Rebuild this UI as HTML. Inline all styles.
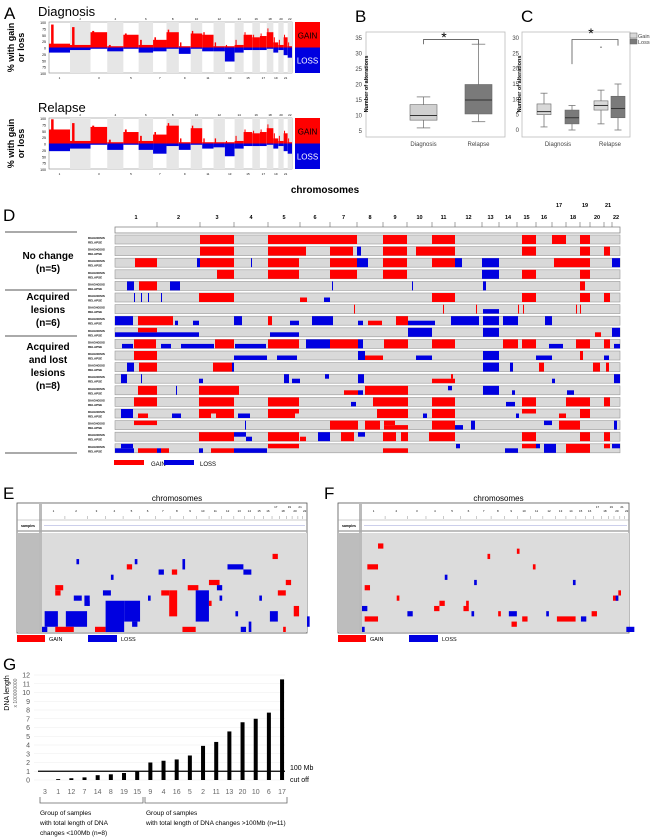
<!DOCTYPE html>
<html><head><meta charset="utf-8">
<style>
body{margin:0;background:#fff;}
svg{display:block;font-family:"Liberation Sans",sans-serif;}
</style></head>
<body>
<svg id="fig" width="650" height="837" viewBox="0 0 650 837" xmlns="http://www.w3.org/2000/svg"></svg>
<script>
// ---------- DATA ----------
const chrNames = ["1","2","3","4","5","6","7","8","9","10","11","12","13","14","15","16","17","18","19","20","21","22"];
const chrLengths = [249,243,198,191,181,171,159,146,141,136,135,134,115,107,103,90,81,78,59,63,48,51];
const diagGain = [15,10,60,5,50,10,30,60,5,55,50,5,5,10,50,40,45,60,20,10,40,5];
const diagGainPeak = [90,80,65,10,55,30,40,70,20,65,60,20,10,30,60,50,55,75,40,30,50,20];
const diagLoss = [20,10,5,15,5,20,15,5,25,5,15,15,55,20,10,10,10,5,20,10,30,40];
const relGain = [55,10,65,5,45,10,35,70,5,60,5,5,5,10,45,40,45,60,20,10,40,5];
const relGainPeak = [95,80,70,15,55,30,45,80,20,70,20,20,10,30,55,50,55,75,40,30,50,20];
const relLoss = [30,20,5,25,5,25,40,10,25,5,20,15,50,20,10,10,10,5,20,10,30,40];

const boxCatsB = ["Diagnosis","Relapse"];
const boxB = [[6,8.5,10,13.5,16],[8,10.5,15,20,33]];
const yTicksB = [5,10,15,20,25,30,35];
const boxC = [[1,5,6,8.5,12],[0,2,4,6.5,8],[2,6.5,8,9.5,13],[0,4,7,11,15]];
const outliersC = [[2,27]];
const yTicksC = [0,5,10,15,20,25,30];

const dChrBounds = [0,42,85,119,153,185,215,242,268,292,317,340,367,384,402,421,437,451,465,475,489,497,505];
const dRows = [
 [[85,119,'g',0],[153,242,'g',0],[268,292,'g',0],[317,340,'g',0],[407,421,'g',0],[437,451,'g',0],[465,475,'g',0]],
 [[85,119,'g',0],[153,191,'g',0],[215,238,'g',0],[242,246,'l',0],[268,292,'g',0],[301,340,'g',0],[407,421,'g',0],[465,475,'g',0],[489,495,'g',0]],
 [[20,42,'g',0],[82,85,'l',0],[85,119,'g',0],[136,137,'l',0],[153,184,'g',0],[215,242,'g',0],[242,253,'l',0],[268,292,'g',0],[317,340,'g',0],[340,347,'l',0],[367,384,'l',0],[439,475,'g',0],[497,505,'l',0]],
 [[102,119,'g',0],[153,184,'g',0],[215,242,'g',0],[268,292,'g',0],[367,384,'l',0],[407,421,'g',0],[465,475,'g',0]],
 [[12,19,'l',0],[24,42,'g',0],[55,65,'l',0],[217,218,'l',0],[297,298,'l',0],[368,371,'l',0],[465,470,'g',0]],
 [[19,20,'l',0],[26,27,'l',0],[33,34,'l',0],[46,47,'l',0],[84,119,'g',0],[185,192,'g',2],[209,215,'l',2],[317,340,'g',0],[407,421,'g',0],[465,475,'g',0],[489,495,'g',0]],
 [[239,240,'g',0],[328,329,'g',0],[361,362,'g',0],[403,404,'g',0],[408,409,'g',0],[461,462,'g',0],[465,466,'g',0],[368,384,'l',2]],
 [[0,18,'l',0],[23,58,'g',0],[60,63,'l',2],[78,84,'l',2],[119,127,'l',0],[153,157,'g',0],[175,184,'l',2],[197,218,'l',0],[243,248,'l',2],[253,267,'g',2],[281,293,'g',0],[293,320,'l',2],[336,364,'l',0],[368,384,'l',0],[388,403,'l',0],[430,437,'l',0]],
 [[0,84,'l',2],[23,42,'g',1],[155,184,'l',2],[293,317,'l',0],[368,384,'l',0],[480,486,'g',2],[497,505,'l',0]],
 [[7,18,'l',2],[19,41,'g',0],[46,56,'l',2],[66,99,'l',2],[100,119,'g',0],[120,151,'l',2],[153,184,'g',0],[191,215,'l',0],[215,243,'g',0],[243,248,'l',0],[269,293,'g',0],[317,340,'g',0],[388,403,'g',0],[407,421,'g',0],[434,448,'l',2],[461,475,'g',0],[489,495,'g',0],[499,505,'l',2]],
 [[19,42,'g',0],[119,152,'l',2],[162,182,'l',2],[243,250,'l',0],[250,268,'g',2],[301,317,'l',2],[368,384,'l',0],[421,437,'l',2],[465,468,'g',0],[489,494,'l',2]],
 [[12,19,'l',0],[24,42,'g',0],[98,117,'g',0],[117,119,'l',0],[368,384,'l',0],[395,398,'l',0],[424,429,'g',0],[478,485,'g',0],[491,494,'g',0]],
 [[6,12,'l',0],[26,27,'l',0],[84,88,'l',2],[169,174,'l',0],[177,185,'l',2],[210,214,'l',1],[243,249,'l',0],[317,340,'g',2],[336,338,'g',1],[437,440,'l',2],[499,505,'l',0]],
 [[23,42,'g',0],[61,62,'l',0],[84,124,'g',0],[229,243,'g',2],[243,248,'l',2],[250,293,'g',0],[333,337,'l',1],[368,384,'l',0],[397,400,'l',2],[452,459,'l',2]],
 [[19,42,'g',0],[84,119,'g',0],[153,184,'g',0],[236,241,'l',2],[258,293,'g',0],[317,340,'g',0],[391,400,'l',2],[407,421,'g',0],[451,475,'g',0],[489,495,'g',0]],
 [[6,18,'l',0],[23,33,'g',2],[57,66,'l',2],[84,119,'g',1],[84,96,'g',2],[101,119,'g',2],[123,135,'l',2],[153,184,'g',1],[153,180,'g',2],[262,293,'g',0],[308,312,'l',2],[317,340,'g',0],[401,404,'l',2],[407,421,'g',1],[444,451,'g',2],[465,475,'g',0]],
 [[19,42,'g',1],[130,131,'l',0],[215,243,'g',0],[250,265,'g',0],[269,293,'g',2],[269,280,'g',1],[317,340,'g',0],[340,348,'l',2],[356,360,'l',0],[429,437,'l',1],[444,465,'g',0],[499,502,'l',0]],
 [[84,119,'g',0],[119,131,'l',1],[131,137,'l',2],[153,184,'g',0],[185,191,'g',2],[203,215,'l',0],[226,239,'g',0],[243,250,'l',1],[268,281,'g',0],[286,293,'g',0],[314,340,'g',0],[407,421,'g',0],[465,475,'g',0],[489,495,'g',0]],
 [[0,19,'l',2],[6,18,'l',1],[23,42,'g',2],[42,46,'l',2],[46,54,'g',2],[84,88,'l',2],[96,119,'g',2],[119,152,'l',2],[153,184,'g',1],[268,293,'g',2],[341,345,'l',1],[390,403,'l',2],[407,421,'g',1],[421,425,'l',1],[429,441,'l',0],[451,475,'g',0],[489,495,'g',1],[497,505,'l',1]]
];
const dGroups = [["No change","(n=5)"],["Acquired","lesions","(n=6)"],["Acquired","and lost","lesions","(n=8)"]];

const eMarks = [
 [1,15,5,3,'l'],[0,18,2,1,'l'],[9,15,8,3,'l'],[5,18,7,1,'g'],[20,18,4,1,'g'],[24,13,7,6,'l'],[31,13,6,4,'l'],[34,17,2,1,'l'],
 [45,11,3,1,'g'],[48,11,3,5,'g'],[53,18,5,1,'g'],[55,10,4,1,'g'],[58,11,5,6,'l'],[63,9,4,1,'g'],[66,10,2,1,'l'],
 [86,15,3,2,'l'],[89,11,3,1,'g'],[95,14,2,2,'g'],[91,18,1,1,'g'],[44,7,2,1,'l'],[49,7,2,1,'g'],[53,5,1,2,'l'],
 [12,12,3,1,'l'],[16,12,2,2,'l'],[23,11,3,1,'l'],[13,5,1,1,'l'],[32,6,2,1,'g'],[35,5,1,1,'l'],[70,6,6,1,'l'],[76,7,3,1,'l'],
 [5,11,2,1,'g'],[5,10,3,1,'g'],[75,18,2,1,'l'],[78,17,1,2,'l'],[82,12,1,1,'l'],[87,4,2,1,'g'],[92,9,2,1,'g'],[26,8,1,1,'l'],
 [40,12,1,1,'l'],[17,13,1,1,'l'],[63,13,1,1,'g'],[67,12,1,1,'l'],[73,15,1,1,'l'],[100,16,1,2,'l']
];
const fMarks = [
 [0,18,1,1,'l'],[1,10,2,1,'g'],[1,16,5,1,'g'],[0,14,2,1,'l'],[13,12,1,1,'g'],[17,15,2,1,'l'],[29,13,2,1,'g'],[27,14,2,1,'g'],
 [55,15,3,1,'l'],[73,16,7,1,'g'],[56,17,2,1,'g'],[82,16,2,1,'l'],[94,12,2,1,'g'],[99,18,3,1,'l'],[86,15,2,1,'g'],
 [38,14,2,1,'g'],[39,13,1,1,'g'],[41,15,1,1,'l'],[69,15,1,1,'l'],[60,16,2,1,'g'],[58,3,1,1,'g'],[64,6,1,1,'g'],[47,4,1,1,'g'],
 [96,11,1,1,'g'],[95,12,1,1,'l'],[6,2,2,1,'g'],[2,6,4,1,'g'],[31,8,1,1,'l'],[42,9,1,1,'l'],[79,9,1,1,'l'],[51,15,1,1,'g']
];

const gCats = ["3","1","12","7","14","8","19","15","9","4","16","5","2","11","13","20","10","6","17"];
const gVals = [0,0.1,0.2,0.3,0.55,0.65,0.8,1.0,2.0,2.2,2.35,2.8,3.9,4.35,5.55,6.6,7.0,7.7,11.5];
const gTicks = [0,1,2,3,4,5,6,7,8,9,10,11,12];
const gCutoff = 1;

// ---------- HELPERS ----------
const NS="http://www.w3.org/2000/svg";
const svg=document.getElementById('fig');
function mk(tag,attrs,parent){const e=document.createElementNS(NS,tag);for(const k in attrs)e.setAttribute(k,attrs[k]);(parent||svg).appendChild(e);return e;}
function txt(x,y,s,size,parent,extra){const e=mk('text',Object.assign({x:x,y:y,'font-size':size,fill:'#000'},extra||{}),parent);e.textContent=s;return e;}
const RED="#ff0000", BLUE="#0000e0";
let el;

// ---------- PANEL A ----------
const totalLen=chrLengths.reduce((a,b)=>a+b,0);
function ax(cum){return 49+cum/totalLen*243;}
function drawA(top,gain,peak,loss,title,yTitle,name){
  const g=mk('g',{});
  
  
  el=txt(38,top-6,title,13,g);
  
  
  const bot=top+51, zero=top+25.5, sc=25.5/100;
  el=mk('rect',{x:49,y:top,width:243,height:51,fill:'#fff',stroke:'#888','stroke-width':0.6},g);
  
  
  let cum=0;
  chrLengths.forEach((L,i)=>{
    const x0=ax(cum),x1=ax(cum+L);
    if(i%2==1){el=mk('rect',{x:x0,y:top,width:x1-x0,height:51,fill:'#e6e6e6'},g);
      
      }
    el=mk('rect',{x:x0,y:zero-gain[i]*sc,width:x1-x0,height:gain[i]*sc,fill:RED},g);
    
    
    el=mk('rect',{x:x0+(x1-x0)*0.1,y:zero-peak[i]*sc,width:Math.max(1,(x1-x0)*0.12),height:peak[i]*sc,fill:RED},g);
    
    
    el=mk('rect',{x:x0,y:zero,width:x1-x0,height:loss[i]*sc,fill:BLUE},g);
    
    
    el=txt((x0+x1)/2,i%2?top-2:bot+6,chrNames[i],3,g,{'text-anchor':'middle'});
    
    
    cum+=L;
  });
  [100,75,50,25,0,25,50,75,100].forEach((v,k)=>{
    el=txt(46,top+1+k*51/8+1,String(v),3.5,g,{'text-anchor':'end'});
    
    
  });
  el=mk('rect',{x:295,y:top,width:25,height:25.5,fill:RED},g);
  
  
  el=txt(307.5,zero-9,"GAIN",8,g,{'text-anchor':'middle'});
  
  
  el=mk('rect',{x:295,y:zero,width:25,height:25.5,fill:BLUE},g);
  
  
  el=txt(307.5,zero+16,"LOSS",8,g,{'text-anchor':'middle',fill:'#fff'});
  
  
  el=txt(0,0,"% with gain",9,g,{'font-weight':'bold','text-anchor':'middle',transform:`translate(14,${zero}) rotate(-90)`});
  
  
  el=txt(0,0,"or loss",9,g,{'font-weight':'bold','text-anchor':'middle',transform:`translate(24,${zero}) rotate(-90)`});
  
  
}
el=txt(4,19,"A",17);


drawA(22,diagGain,diagGainPeak,diagLoss,"Diagnosis","","panel-a-diagnosis");
drawA(118,relGain,relGainPeak,relLoss,"Relapse","","panel-a-relapse");

// ---------- PANEL B ----------
function drawBox(b,x,w,yf,fill,g,name){
  const gg=mk('g',{},g);
  
  
  const cx=x+w/2;
  mk('line',{x1:cx,x2:cx,y1:yf(b[0]),y2:yf(b[1]),stroke:'#777','stroke-width':0.8},gg);
  mk('line',{x1:cx,x2:cx,y1:yf(b[3]),y2:yf(b[4]),stroke:'#777','stroke-width':0.8},gg);
  mk('line',{x1:cx-w/4,x2:cx+w/4,y1:yf(b[0]),y2:yf(b[0]),stroke:'#777','stroke-width':0.8},gg);
  mk('line',{x1:cx-w/4,x2:cx+w/4,y1:yf(b[4]),y2:yf(b[4]),stroke:'#777','stroke-width':0.8},gg);
  mk('rect',{x:x,y:yf(b[3]),width:w,height:yf(b[1])-yf(b[3]),fill:fill,stroke:'#666','stroke-width':0.6},gg);
  mk('line',{x1:x,x2:x+w,y1:yf(b[2]),y2:yf(b[2]),stroke:'#333','stroke-width':1},gg);
}
{
  const g=mk('g',{});
  
  
  el=txt(355,22,"B",17,g);
  
  
  el=mk('rect',{x:366,y:32,width:139,height:105,fill:'#fff',stroke:'#bbb','stroke-width':0.8},g);
  
  
  const yf=v=>131-(v-5)/30*93;
  yTicksB.forEach(v=>{
    el=txt(362,yf(v)+2,String(v),6,g,{'text-anchor':'end',fill:'#444'});
    
    
  });
  el=txt(0,0,"Number of alterations",5.5,g,{'font-weight':'bold','text-anchor':'middle',transform:'translate(368,84) rotate(-90)'});
  
  
  const xs=[410,465];
  boxCatsB.forEach((c,i)=>{
    drawBox(boxB[i],xs[i],27,yf,i?'#7a7a7a':'#d0d0d0',g,'box-'+c.toLowerCase());
    el=txt(xs[i]+13.5,146,c,6,g,{'text-anchor':'middle',fill:'#444'});
    
    
  });
  el=mk('path',{d:`M423.5,${yf(33)} V${yf(34.5)} H478.5 V${yf(33)}`,fill:'none',stroke:'#555','stroke-width':0.8},g);
  
  
  el=txt(444,42,"*",14,g,{'text-anchor':'middle'});
  
  
}
// ---------- PANEL C ----------
{
  const g=mk('g',{});
  
  
  el=txt(521,22,"C",17,g);
  
  
  el=mk('rect',{x:522,y:32,width:108,height:105,fill:'#fff',stroke:'#bbb','stroke-width':0.8},g);
  
  
  const yf=v=>130-v/30*92;
  yTicksC.forEach(v=>{
    el=txt(519,yf(v)+2,String(v),6,g,{'text-anchor':'end',fill:'#444'});
    
    
  });
  el=txt(0,0,"Number of alterations",5.5,g,{'font-weight':'bold','text-anchor':'middle',transform:'translate(521,84) rotate(-90)'});
  
  
  const xs=[537,565,594,611];
  boxC.forEach((b,i)=>drawBox(b,xs[i],14,yf,i%2?'#7a7a7a':'#d8d8d8',g,'box-c-'+i));
  outliersC.forEach(o=>{
    el=mk('circle',{cx:xs[o[0]]+7,cy:yf(o[1]),r:0.7,fill:'#555'},g);
    
    
  });
  el=txt(558,146,"Diagnosis",6,g,{'text-anchor':'middle',fill:'#444'});
  
  
  el=txt(610,146,"Relapse",6,g,{'text-anchor':'middle',fill:'#444'});
  
  
  el=mk('path',{d:`M572,${yf(21.5)} V${yf(29.5)} H618 V${yf(27.5)}`,fill:'none',stroke:'#555','stroke-width':0.8},g);
  
  
  el=txt(591,38,"*",14,g,{'text-anchor':'middle'});
  
  
  el=mk('rect',{x:630,y:33,width:7,height:5,fill:'#d8d8d8',stroke:'#666','stroke-width':0.5},g);
  
  
  el=txt(638,38,"Gains",5.5,g,{fill:'#444'});
  
  
  el=mk('rect',{x:630,y:39,width:7,height:5,fill:'#7a7a7a',stroke:'#666','stroke-width':0.5},g);
  
  
  el=txt(638,44,"Losses",5.5,g,{fill:'#444'});
  
  
}

// ---------- PANEL D ----------
{
  const g=mk('g',{});
  
  
  const dx=p=>115+p;
  el=txt(325,193,"chromosomes",10,g,{'font-weight':'bold','text-anchor':'middle'});
  
  
  el=txt(3,221,"D",17,g);
  
  
  el=mk('rect',{x:115,y:227,width:505,height:6,fill:'#fff',stroke:'#888','stroke-width':0.8},g);
  
  
  for(let i=0;i<22;i++){
    const a=dChrBounds[i],b=dChrBounds[i+1];
    const up=(i==16||i==18||i==20);
    el=txt(dx((a+b)/2),up?207:219,chrNames[i],5.5,g,{'font-weight':'bold','text-anchor':'middle'});
    
    
    if(i>0){el=mk('line',{x1:dx(a),x2:dx(a),y1:222,y2:227,stroke:'#666','stroke-width':0.6},g);
      
      }
  }
  const rowTop=235, rowH=11.6;
  dRows.forEach((segs,r)=>{
    const y=rowTop+r*rowH;
    el=mk('rect',{x:115,y:y,width:505,height:9,fill:'#d9d9d9',stroke:'#999','stroke-width':0.6},g);
    
    
    el=txt(88,y+4,"DIAGNOSIS",3,g,{'font-weight':'bold'});
    
    
    el=txt(88,y+8.5,"RELAPSE",3,g,{'font-weight':'bold'});
    
    
    segs.forEach(s=>{
      const yy=s[3]==2?y+4.5:y, hh=s[3]==0?9:4.5;
      el=mk('rect',{x:dx(s[0]),y:yy,width:Math.max(0.8,dx(s[1])-dx(s[0])),height:hh,fill:s[2]=='g'?RED:BLUE},g);
      
      
    });
  });
  [232,290,336,453].forEach(y=>{
    el=mk('line',{x1:5,x2:77,y1:y,y2:y,stroke:'#555','stroke-width':1},g);
    
    
  });
  const gy=[[259,272],[300,313,326],[350,363,376,389]];
  dGroups.forEach((lines,i)=>lines.forEach((s,k)=>{
    el=txt(48,gy[i][k],s,10,g,{'font-weight':'bold','text-anchor':'middle'});
    
    
  }));
  el=mk('rect',{x:114,y:460,width:30,height:5,fill:RED},g);
  
  
  el=txt(151,466,"GAIN",6,g);
  
  
  el=mk('rect',{x:164,y:460,width:30,height:5,fill:BLUE},g);
  
  
  el=txt(200,466,"LOSS",6,g);
  
  
}

// ---------- PANELS E & F ----------
function drawEF(x0,x1,left,marks,letter,name){
  const g=mk('g',{});
  
  
  el=txt(x0-14,499,letter,17,g);
  
  
  el=txt((x0+x1)/2+15,501,"chromosomes",8,g,{'text-anchor':'middle'});
  
  
  el=mk('rect',{x:x0,y:503,width:x1-x0,height:130,fill:'#fff',stroke:'#555','stroke-width':0.8},g);
  
  
  el=mk('rect',{x:left-3,y:503,width:3,height:130,fill:'#bbb'},g);
  
  
  el=mk('rect',{x:x0,y:533,width:left-x0-3,height:99,fill:'#bdbdbd'},g);
  
  
  el=mk('rect',{x:left,y:533,width:x1-left,height:99,fill:'#dcdcdc'},g);
  
  
  el=mk('line',{x1:x0,x2:x1,y1:520,y2:520,stroke:'#999','stroke-width':0.6},g);
  
  
  el=mk('line',{x1:x0,x2:x1,y1:531,y2:531,stroke:'#aaa','stroke-width':1.5},g);
  
  
  el=txt(x0+4,527,"samples",3.5,g,{'font-weight':'bold'});
  
  
  el=mk('line',{x1:left+2,x2:x1-2,y1:525.5,y2:525.5,stroke:'#9aa0d8','stroke-width':0.6},g);
  
  
  const px=p=>left+p/100*(x1-left);
  let cum=0;
  chrLengths.forEach((L,i)=>{
    const a=px(cum/totalLen*100),b=px((cum+L)/totalLen*100);
    el=txt((a+b)/2,i>=16&&i%2==0?508:512,chrNames[i],3,g,{'text-anchor':'middle'});
    
    
    el=mk('line',{x1:b,x2:b,y1:516,y2:519,stroke:'#777','stroke-width':0.4},g);
    
    
    cum+=L;
  });
  const rh=99/19;
  marks.forEach(m=>{
    el=mk('rect',{x:px(m[0]),y:533+m[1]*rh,width:Math.max(1,px(m[0]+m[2])-px(m[0])),height:m[3]*rh,fill:m[4]=='g'?RED:BLUE},g);
    
    
  });
  el=mk('rect',{x:x0,y:635,width:28,height:7,fill:RED},g);
  
  
  el=txt(x0+32,641,"GAIN",5.5,g);
  
  
  el=mk('rect',{x:x0+71,y:635,width:29,height:7,fill:BLUE},g);
  
  
  el=txt(x0+104,641,"LOSS",5.5,g);
  
  
}
drawEF(17,307,42,eMarks,"E","panel-e");
drawEF(338,629,362,fMarks,"F","panel-f");

// ---------- PANEL G ----------
{
  const g=mk('g',{});
  
  
  el=txt(3,670,"G",17,g);
  
  
  const yf=v=>780-v/12*105;
  const xf=i=>45+i*13.17;
  gTicks.forEach(v=>{
    el=mk('line',{x1:34,x2:285,y1:yf(v),y2:yf(v),stroke:'#eee','stroke-width':0.6},g);
    
    
    el=txt(30,yf(v)+2.5,String(v),7,g,{'text-anchor':'end',fill:'#555'});
    
    
  });
  el=txt(0,0,"DNA length",7,g,{'text-anchor':'middle',transform:'translate(9,693) rotate(-90)'});
  
  
  el=txt(0,0,"x 100000000",5,g,{'text-anchor':'middle',fill:'#666',transform:'translate(17,693) rotate(-90)'});
  
  
  gCats.forEach((c,i)=>{
    el=mk('rect',{x:xf(i)-2,y:yf(gVals[i]),width:4,height:yf(0)-yf(gVals[i]),fill:'#000'},g);
    
    
    el=txt(xf(i),794,c,7,g,{'text-anchor':'middle',fill:'#666'});
    
    
  });
  el=mk('line',{x1:38,x2:285,y1:yf(gCutoff),y2:yf(gCutoff),stroke:'#000','stroke-width':1.2},g);
  
  
  el=txt(290,770,"100 Mb",7,g);
  
  
  el=txt(290,782,"cut off",7,g);
  
  
  el=mk('path',{d:'M40,797 V803 H143 V797 M145,797 V803 H287 V797',fill:'none',stroke:'#666','stroke-width':0.8},g);
  
  
  [["Group of samples",40,815],["with total length of DNA",40,825],["changes <100Mb (n=8)",40,835],["Group of samples",146,815],["with total length of DNA changes >100Mb (n=11)",146,825]].forEach(t=>{
    el=txt(t[1],t[2],t[0],6.5,g);
    
    
  });
}
</script>
</body></html>
